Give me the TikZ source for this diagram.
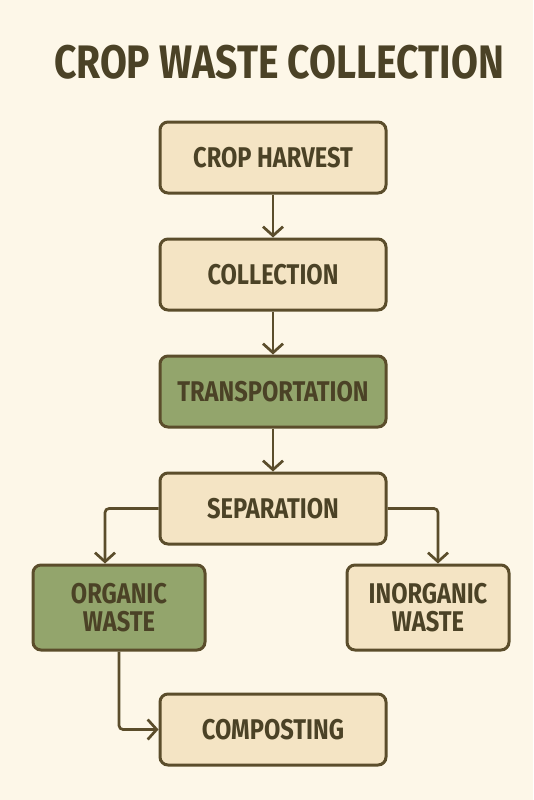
\documentclass[tikz,border=0pt]{standalone}
\usepackage{fontspec}
\setmainfont{Fira Sans}
\newfontfamily\boxfont[FakeStretch=0.83]{Fira Sans Bold}
\usetikzlibrary{arrows.meta}
\definecolor{paper}{HTML}{FDF7E8}
\definecolor{beige}{HTML}{F4E4C4}
\definecolor{leaf}{HTML}{93A56C}
\definecolor{linecol}{HTML}{5B4D2B}
\definecolor{textcol}{HTML}{4B4226}
\tikzstyle{stage} = [rectangle, rounded corners=8pt, minimum width=226pt, minimum height=71pt, align=center, draw=linecol, line width=3pt, fill=beige, text=textcol, font=\boxfont\fontsize{28.5}{27.5}\selectfont]
\tikzstyle{greenstage} = [stage, fill=leaf]
\tikzstyle{arrow} = [line width=2.7pt, draw=linecol, rounded corners=4pt, -{Straight Barb[length=9pt,width=20pt,line width=2.7pt]}]

\begin{document}
\begin{tikzpicture}[x=1pt, y=1pt, node distance=117pt]

	\fill [paper] (0,0) rectangle (533,-800);
	\useasboundingbox (0,0) rectangle (533,-800);

	\node (title) [text=textcol, font=\boxfont\fontsize{47}{50}\selectfont] at (279,-62) {CROP WASTE COLLECTION};

	\node (harv) [stage] at (273,-157.5) {CROP HARVEST};
	\node (coll) [stage, below of=harv] {COLLECTION};
	\node (trans) [greenstage, below of=coll] {TRANSPORTATION};
	\node (sep) [stage, below of=trans] {SEPARATION};
	\node (org) [greenstage, below of=sep, yshift=18pt, xshift=-154pt, minimum width=172pt, minimum height=85pt] {ORGANIC\\WASTE};
	\node (inorg) [stage, below of=sep, yshift=18pt, xshift=155pt, minimum width=162pt, minimum height=85pt] {INORGANIC\\WASTE};
	\node (comp) [stage, below of=sep, yshift=-104pt] {COMPOSTING};

	\draw [arrow] (harv) -- (coll);
	\draw [arrow] (coll) -- (trans);
	\draw [arrow] (trans) -- (sep);
	\draw [arrow] (sep.west) -| ([xshift=-14pt]org.north);
	\draw [arrow] (sep.east) -| ([xshift=10pt]inorg.north);
	\draw [arrow] (org.south) |- (comp.west);

\end{tikzpicture}
\end{document}
